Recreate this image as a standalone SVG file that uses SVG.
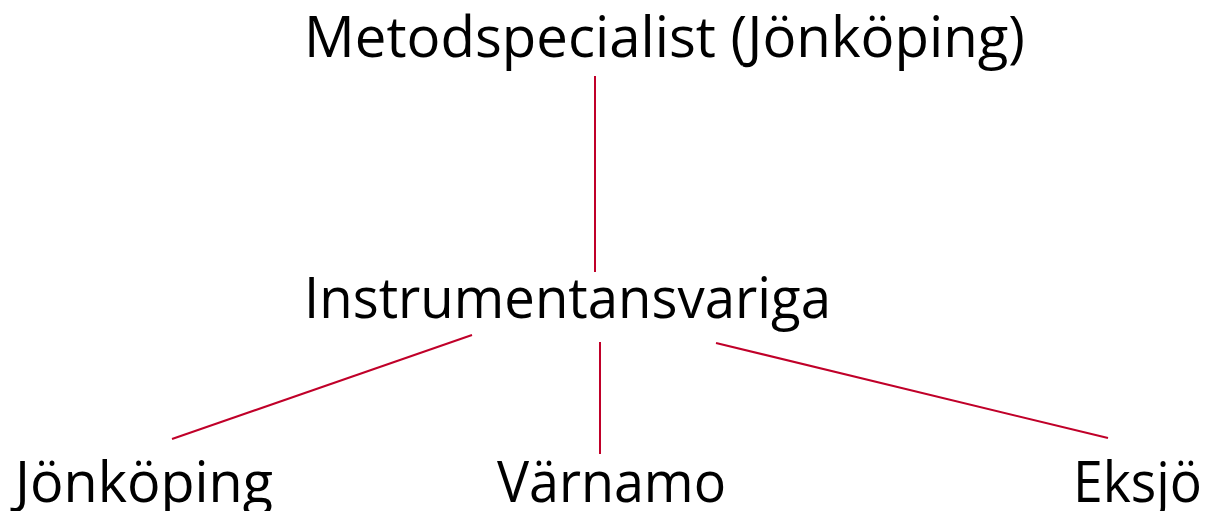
<svg xmlns="http://www.w3.org/2000/svg" width="1208" height="511" viewBox="0 0 1208 511">
<style>
.lbl{font-family:"Open Sans","Liberation Sans",sans-serif;font-size:56px;fill:#000}
.con line{stroke:#C00029;stroke-width:2;fill:none}
</style>
<rect width="1208" height="511" fill="#fff"/>
<g id="connectors" class="con">
<line x1="595" y1="76" x2="595" y2="272"/>
<line x1="472" y1="335" x2="172" y2="439"/>
<line x1="600" y1="342" x2="600" y2="454"/>
<line x1="716" y1="343" x2="1108" y2="438"/>
</g>
<g id="metodspecialist"><text class="lbl" x="304" y="57" textLength="721" lengthAdjust="spacingAndGlyphs">Metodspecialist (Jönköping)</text></g>
<g id="instrumentansvariga"><text class="lbl" x="304" y="318" textLength="527" lengthAdjust="spacingAndGlyphs">Instrumentansvariga</text></g>
<g id="jonkoping"><text class="lbl" x="15" y="502" textLength="258" lengthAdjust="spacingAndGlyphs">Jönköping</text></g>
<g id="varnamo"><text class="lbl" x="497" y="502" textLength="229" lengthAdjust="spacingAndGlyphs">Värnamo</text></g>
<g id="eksjo"><text class="lbl" x="1073" y="502" textLength="129" lengthAdjust="spacingAndGlyphs">Eksjö</text></g>
</svg>
